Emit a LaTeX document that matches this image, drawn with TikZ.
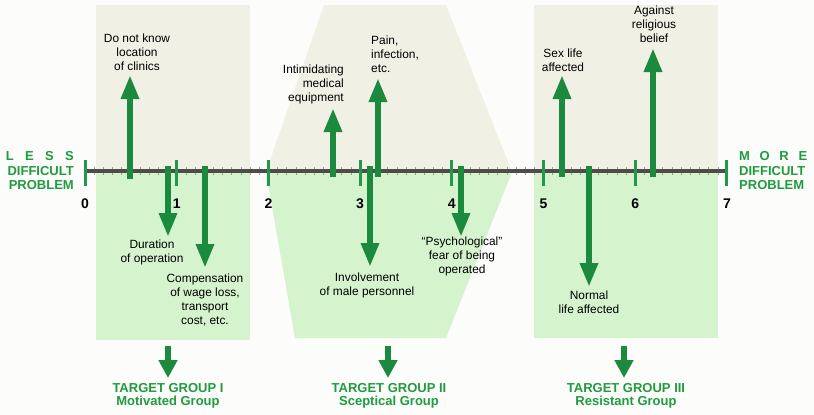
\documentclass[tikz,border=0pt]{standalone}
\usepackage{fontspec}
\setmainfont{Liberation Sans}
\usetikzlibrary{arrows.meta}
\definecolor{arrgreen}{HTML}{1C8A3C}
\definecolor{txtgreen}{HTML}{1F9C3F}
\definecolor{tickgreen}{HTML}{23974A}
\definecolor{panelup}{HTML}{F0F0E5}
\definecolor{paneldown}{HTML}{D5F3CD}
\definecolor{axisgray}{HTML}{4F4D4A}
\definecolor{paper}{HTML}{FCFCFA}

\tikzset{
  bigup/.style={line width=6pt, arrgreen, -{Triangle[width=17pt,length=24pt]}},
  bigdown/.style={line width=6pt, arrgreen, -{Triangle[width=17pt,length=24pt]}},
  grouparrow/.style={line width=6pt, arrgreen, -{Triangle[width=18pt,length=18pt]}},
  cause/.style={inner sep=0pt, align=center, font=\fontsize{11.9}{14}\selectfont},
  endlabel/.style={inner sep=0pt, text=txtgreen, font=\bfseries\fontsize{13}{14.5}\selectfont},
  grouplabel/.style={inner sep=0pt, align=center, text=txtgreen, font=\bfseries\fontsize{13}{13.5}\selectfont},
  ticknum/.style={inner sep=0pt, font=\bfseries\fontsize{14}{14}\selectfont}
}

\begin{document}
\begin{tikzpicture}[x=1pt,y=-1pt]
\useasboundingbox[fill=paper] (0,0) rectangle (814,415);

% the three group panels
\fill[panelup] (96,5) rectangle (250,172);
\fill[paneldown] (96,172) rectangle (250,340);
\fill[panelup] (324,5) -- (446,5) -- (512,172) -- (266,172) -- cycle;
\fill[paneldown] (266,172) -- (512,172) -- (446,338) -- (295,338) -- cycle;
\fill[panelup] (534,5) rectangle (718,172);
\fill[paneldown] (534,172) rectangle (718,338);

% scale
\coordinate (s0) at (85,171);
\coordinate (s7) at (727,171);
\foreach \i in {1,...,69}
  \draw[axisgray!55, line width=0.6pt] (85+\i*9.171,167) -- (85+\i*9.171,175);
\draw[axisgray, line width=3.5pt] (s0) -- (s7);
\foreach \n in {0,...,7}{
  \draw[tickgreen, line width=3pt] (85+\n*91.71,160) -- (85+\n*91.71,186);
  \node[ticknum] (num\n) at (85+\n*91.71,204) {\n};
}

\node[endlabel, anchor=east, align=right] (less) at (74,171)
  {\makebox[68pt][s]{L\hfil E\hfil S\hfil S}\\DIFFICULT\\PROBLEM};
\node[endlabel, anchor=west, align=left] (more) at (739,171)
  {\makebox[68pt][s]{M\hfil O\hfil R\hfil E}\\DIFFICULT\\PROBLEM};

% problems above the scale
\node[cause] (clinic) at (137,52) {Do not know\\location\\of clinics};
\node[cause, anchor=east, align=right] (equip) at (344,84) {Intimidating\\medical\\equipment};
\node[cause, anchor=west, align=left] (pain) at (371,54) {Pain,\\infection,\\etc.};
\node[cause] (sexlife) at (563,60) {Sex life\\affected};
\node[cause] (relig) at (654,24) {Against\\religious\\belief};

\coordinate (clinic-b) at (130,179);  \coordinate (clinic-t) at (130,75);
\coordinate (equip-b) at (333,177);   \coordinate (equip-t) at (333,108);
\coordinate (pain-b) at (378,177);    \coordinate (pain-t) at (378,78);
\coordinate (sexlife-b) at (562,177); \coordinate (sexlife-t) at (562,75);
\coordinate (relig-b) at (653,177);   \coordinate (relig-t) at (653,48);
\draw[bigup] (clinic-b) -- (clinic-t);
\draw[bigup] (equip-b) -- (equip-t);
\draw[bigup] (pain-b) -- (pain-t);
\draw[bigup] (sexlife-b) -- (sexlife-t);
\draw[bigup] (relig-b) -- (relig-t);

% problems below the scale
\node[cause] (durat) at (152,252) {Duration\\of operation};
\node[cause] (wage) at (205,300) {Compensation\\of wage loss,\\transport\\cost, etc.};
\node[cause] (male) at (367,285) {Involvement\\of male personnel};
\node[cause] (psych) at (462,256) {“Psychological”\\fear of being\\operated};
\node[cause] (normal) at (589,302) {Normal\\life affected};

\coordinate (durat-b) at (168,166);  \coordinate (durat-t) at (168,237);
\coordinate (wage-b) at (205,166);   \coordinate (wage-t) at (205,268);
\coordinate (male-b) at (370,166);   \coordinate (male-t) at (370,267);
\coordinate (psych-b) at (461,166);  \coordinate (psych-t) at (461,237);
\coordinate (normal-b) at (589,166); \coordinate (normal-t) at (589,287);
\draw[bigdown] (durat-b) -- (durat-t);
\draw[bigdown] (wage-b) -- (wage-t);
\draw[bigdown] (male-b) -- (male-t);
\draw[bigdown] (psych-b) -- (psych-t);
\draw[bigdown] (normal-b) -- (normal-t);

% target groups
\node[grouplabel] (grpI) at (168,396) {TARGET GROUP I\\Motivated Group};
\node[grouplabel] (grpII) at (389,396) {TARGET GROUP II\\Sceptical Group};
\node[grouplabel] (grpIII) at (626,396) {TARGET GROUP III\\Resistant Group};
\coordinate (grpI-a) at (168,346);   \coordinate (grpI-b) at (168,378);
\coordinate (grpII-a) at (388,346);  \coordinate (grpII-b) at (388,378);
\coordinate (grpIII-a) at (624,346); \coordinate (grpIII-b) at (624,378);
\draw[grouparrow] (grpI-a) -- (grpI-b);
\draw[grouparrow] (grpII-a) -- (grpII-b);
\draw[grouparrow] (grpIII-a) -- (grpIII-b);
\end{tikzpicture}
\end{document}
